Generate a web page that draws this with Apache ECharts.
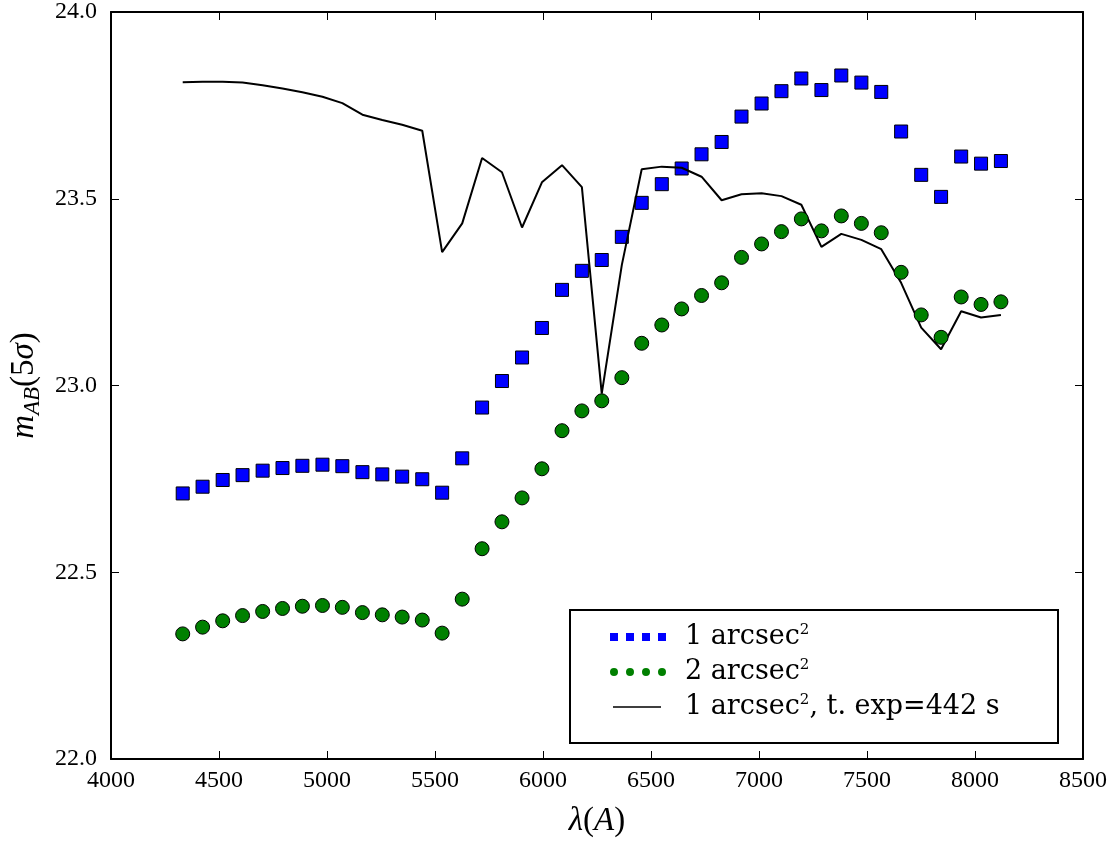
<!DOCTYPE html>
<html><head><meta charset="utf-8">
<script src="https://cdn.jsdelivr.net/npm/echarts@6/dist/echarts.min.js"></script>
<style>html,body{margin:0;padding:0;background:#fff}#c{width:1109px;height:841px}</style>
</head><body><div id="c"></div>
<script>
const wavelength = [4332, 4424, 4517, 4609, 4702, 4794, 4886, 4979, 5071, 5164, 5256, 5348, 5441, 5533,
  5626, 5718, 5810, 5903, 5995, 6088, 6180, 6272, 6365, 6457, 6550, 6642, 6734, 6827, 6919, 7012,
  7104, 7196, 7289, 7381, 7474, 7566, 7658, 7751, 7843, 7936, 8028, 8120];
const mag1arcsec = [22.711, 22.729, 22.747, 22.760, 22.772, 22.779, 22.785, 22.788, 22.784, 22.768,
  22.762, 22.756, 22.749, 22.713, 22.805, 22.941, 23.012, 23.075, 23.154, 23.256, 23.307, 23.336,
  23.398, 23.489, 23.539, 23.581, 23.619, 23.652, 23.720, 23.755, 23.788, 23.822, 23.791, 23.830,
  23.811, 23.786, 23.680, 23.564, 23.505, 23.613, 23.594, 23.601];
const mag2arcsec = [22.335, 22.353, 22.370, 22.384, 22.395, 22.403, 22.409, 22.411, 22.406, 22.392,
  22.386, 22.380, 22.372, 22.337, 22.428, 22.563, 22.635, 22.699, 22.777, 22.879, 22.932, 22.959,
  23.021, 23.113, 23.162, 23.205, 23.241, 23.275, 23.343, 23.379, 23.412, 23.446, 23.414, 23.454,
  23.434, 23.409, 23.303, 23.189, 23.129, 23.237, 23.217, 23.224];
const magExp442 = [23.812, 23.813, 23.813, 23.811, 23.804, 23.795, 23.785, 23.773, 23.756, 23.725,
  23.711, 23.698, 23.682, 23.357, 23.434, 23.609, 23.571, 23.423, 23.544, 23.590, 23.531, 22.978,
  23.323, 23.579, 23.586, 23.583, 23.559, 23.496, 23.512, 23.515, 23.507, 23.484, 23.371, 23.406,
  23.390, 23.365, 23.275, 23.155, 23.097, 23.199, 23.182, 23.189];
const seriesNames = ['1 arcsec2', '2 arcsec2', '1 arcsec2, t. exp=442 s'];
const legendLabels = ['1 arcsec{sup|2}', '2 arcsec{sup|2}', '1 arcsec{sup|2}, t. exp=442 s'];

const F = 'Liberation Serif';
const FL = 'DejaVu Serif';
const pair = (xs, ys) => xs.map((x, i) => [x, ys[i]]);
const chart = echarts.init(document.getElementById('c'), null, {renderer: 'canvas'});

const axisCommon = {
  axisLine: {show: true, lineStyle: {color: '#000', width: 2}},
  axisTick: {show: true, inside: true, length: 8, lineStyle: {color: '#000', width: 1}},
  splitLine: {show: false}
};

chart.setOption({
  backgroundColor: '#fff',
  animation: false,
  grid: {left: 111, right: 26, top: 12, bottom: 82, containLabel: false, outerBoundsMode: 'none'},
  xAxis: [
    Object.assign({type: 'value', min: 4000, max: 8500, interval: 500, position: 'bottom',
      axisLabel: {color: '#000', fontFamily: F, fontSize: 24, margin: 10, formatter: v => String(v)},
      name: '{i|λ}({i|A})', nameLocation: 'middle', nameGap: 46,
      nameTextStyle: {color: '#000', fontFamily: F, fontSize: 33,
        rich: {i: {fontStyle: 'italic', fontFamily: F, fontSize: 33, color: '#000'}}}
    }, axisCommon),
    Object.assign({type: 'value', min: 4000, max: 8500, interval: 500, position: 'top',
      axisLabel: {show: false}}, axisCommon)
  ],
  yAxis: [
    Object.assign({type: 'value', min: 22, max: 24, interval: 0.5, position: 'left',
      axisLabel: {color: '#000', fontFamily: F, fontSize: 24, margin: 14,
        formatter: v => v.toFixed(1)},
      name: '{i|m}{sub|AB}(5{i|σ})', nameLocation: 'middle', nameGap: 66, nameRotate: 90,
      nameTextStyle: {color: '#000', fontFamily: F, fontSize: 33, lineHeight: 40,
        rich: {
          i: {fontStyle: 'italic', fontFamily: F, fontSize: 33, lineHeight: 40, color: '#000'},
          sub: {fontStyle: 'italic', fontFamily: F, fontSize: 23, lineHeight: 23, verticalAlign: 'bottom', color: '#000'}
        }}
    }, axisCommon),
    Object.assign({type: 'value', min: 22, max: 24, interval: 0.5, position: 'right',
      axisLabel: {show: false}}, axisCommon)
  ],
  graphic: [{
    type: 'rect', z: 50, shape: {x: 570, y: 610, width: 488, height: 133},
    style: {fill: '#fff', stroke: '#000', lineWidth: 2}
  }],
  legend: {
    z: 100, orient: 'vertical', left: 610, top: 623, padding: 0, itemGap: 7,
    itemWidth: 70, itemHeight: 8, selectedMode: false,
    formatter: name => legendLabels[seriesNames.indexOf(name)],
    textStyle: {color: '#000', fontFamily: FL, fontSize: 27, lineHeight: 28,
      rich: {sup: {fontFamily: FL, fontSize: 15, lineHeight: 12, verticalAlign: 'top', color: '#000'}}},
    data: [
      {name: seriesNames[0], icon: 'path://M0,0h8v8h-8z M16,0h8v8h-8z M32,0h8v8h-8z M48,0h8v8h-8z M69.99,7.99h0.01v0.01h-0.01z',
        itemStyle: {color: '#0000ff', borderWidth: 0}},
      {name: seriesNames[1], icon: 'path://M0,4a4,4 0 1,0 8,0a4,4 0 1,0 -8,0z M16,4a4,4 0 1,0 8,0a4,4 0 1,0 -8,0z M32,4a4,4 0 1,0 8,0a4,4 0 1,0 -8,0z M48,4a4,4 0 1,0 8,0a4,4 0 1,0 -8,0z M69.99,7.99h0.01v0.01h-0.01z',
        itemStyle: {color: '#008000', borderWidth: 0}},
      {name: seriesNames[2], icon: 'path://M0,0h0.01v0.01h-0.01z M3,3.3h48v1.4h-48z M69.99,7.99h0.01v0.01h-0.01z',
        itemStyle: {color: '#000', borderWidth: 0}}
    ]
  },
  series: [
    {name: seriesNames[0], type: 'scatter', xAxisIndex: 0, yAxisIndex: 0, symbol: 'rect', symbolSize: 13,
      itemStyle: {color: '#0000ff', borderColor: '#000', borderWidth: 1, opacity: 1},
      data: pair(wavelength, mag1arcsec), z: 2},
    {name: seriesNames[2], type: 'line', xAxisIndex: 0, yAxisIndex: 0, showSymbol: false, symbol: 'none',
      color: '#000', lineStyle: {color: '#000', width: 2}, itemStyle: {color: '#000'},
      data: pair(wavelength, magExp442), z: 3},
    {name: seriesNames[1], type: 'scatter', xAxisIndex: 0, yAxisIndex: 0, symbol: 'circle', symbolSize: 14,
      itemStyle: {color: '#008000', borderColor: '#000', borderWidth: 1, opacity: 1},
      data: pair(wavelength, mag2arcsec), z: 4}
  ]
});
</script>
</body></html>
